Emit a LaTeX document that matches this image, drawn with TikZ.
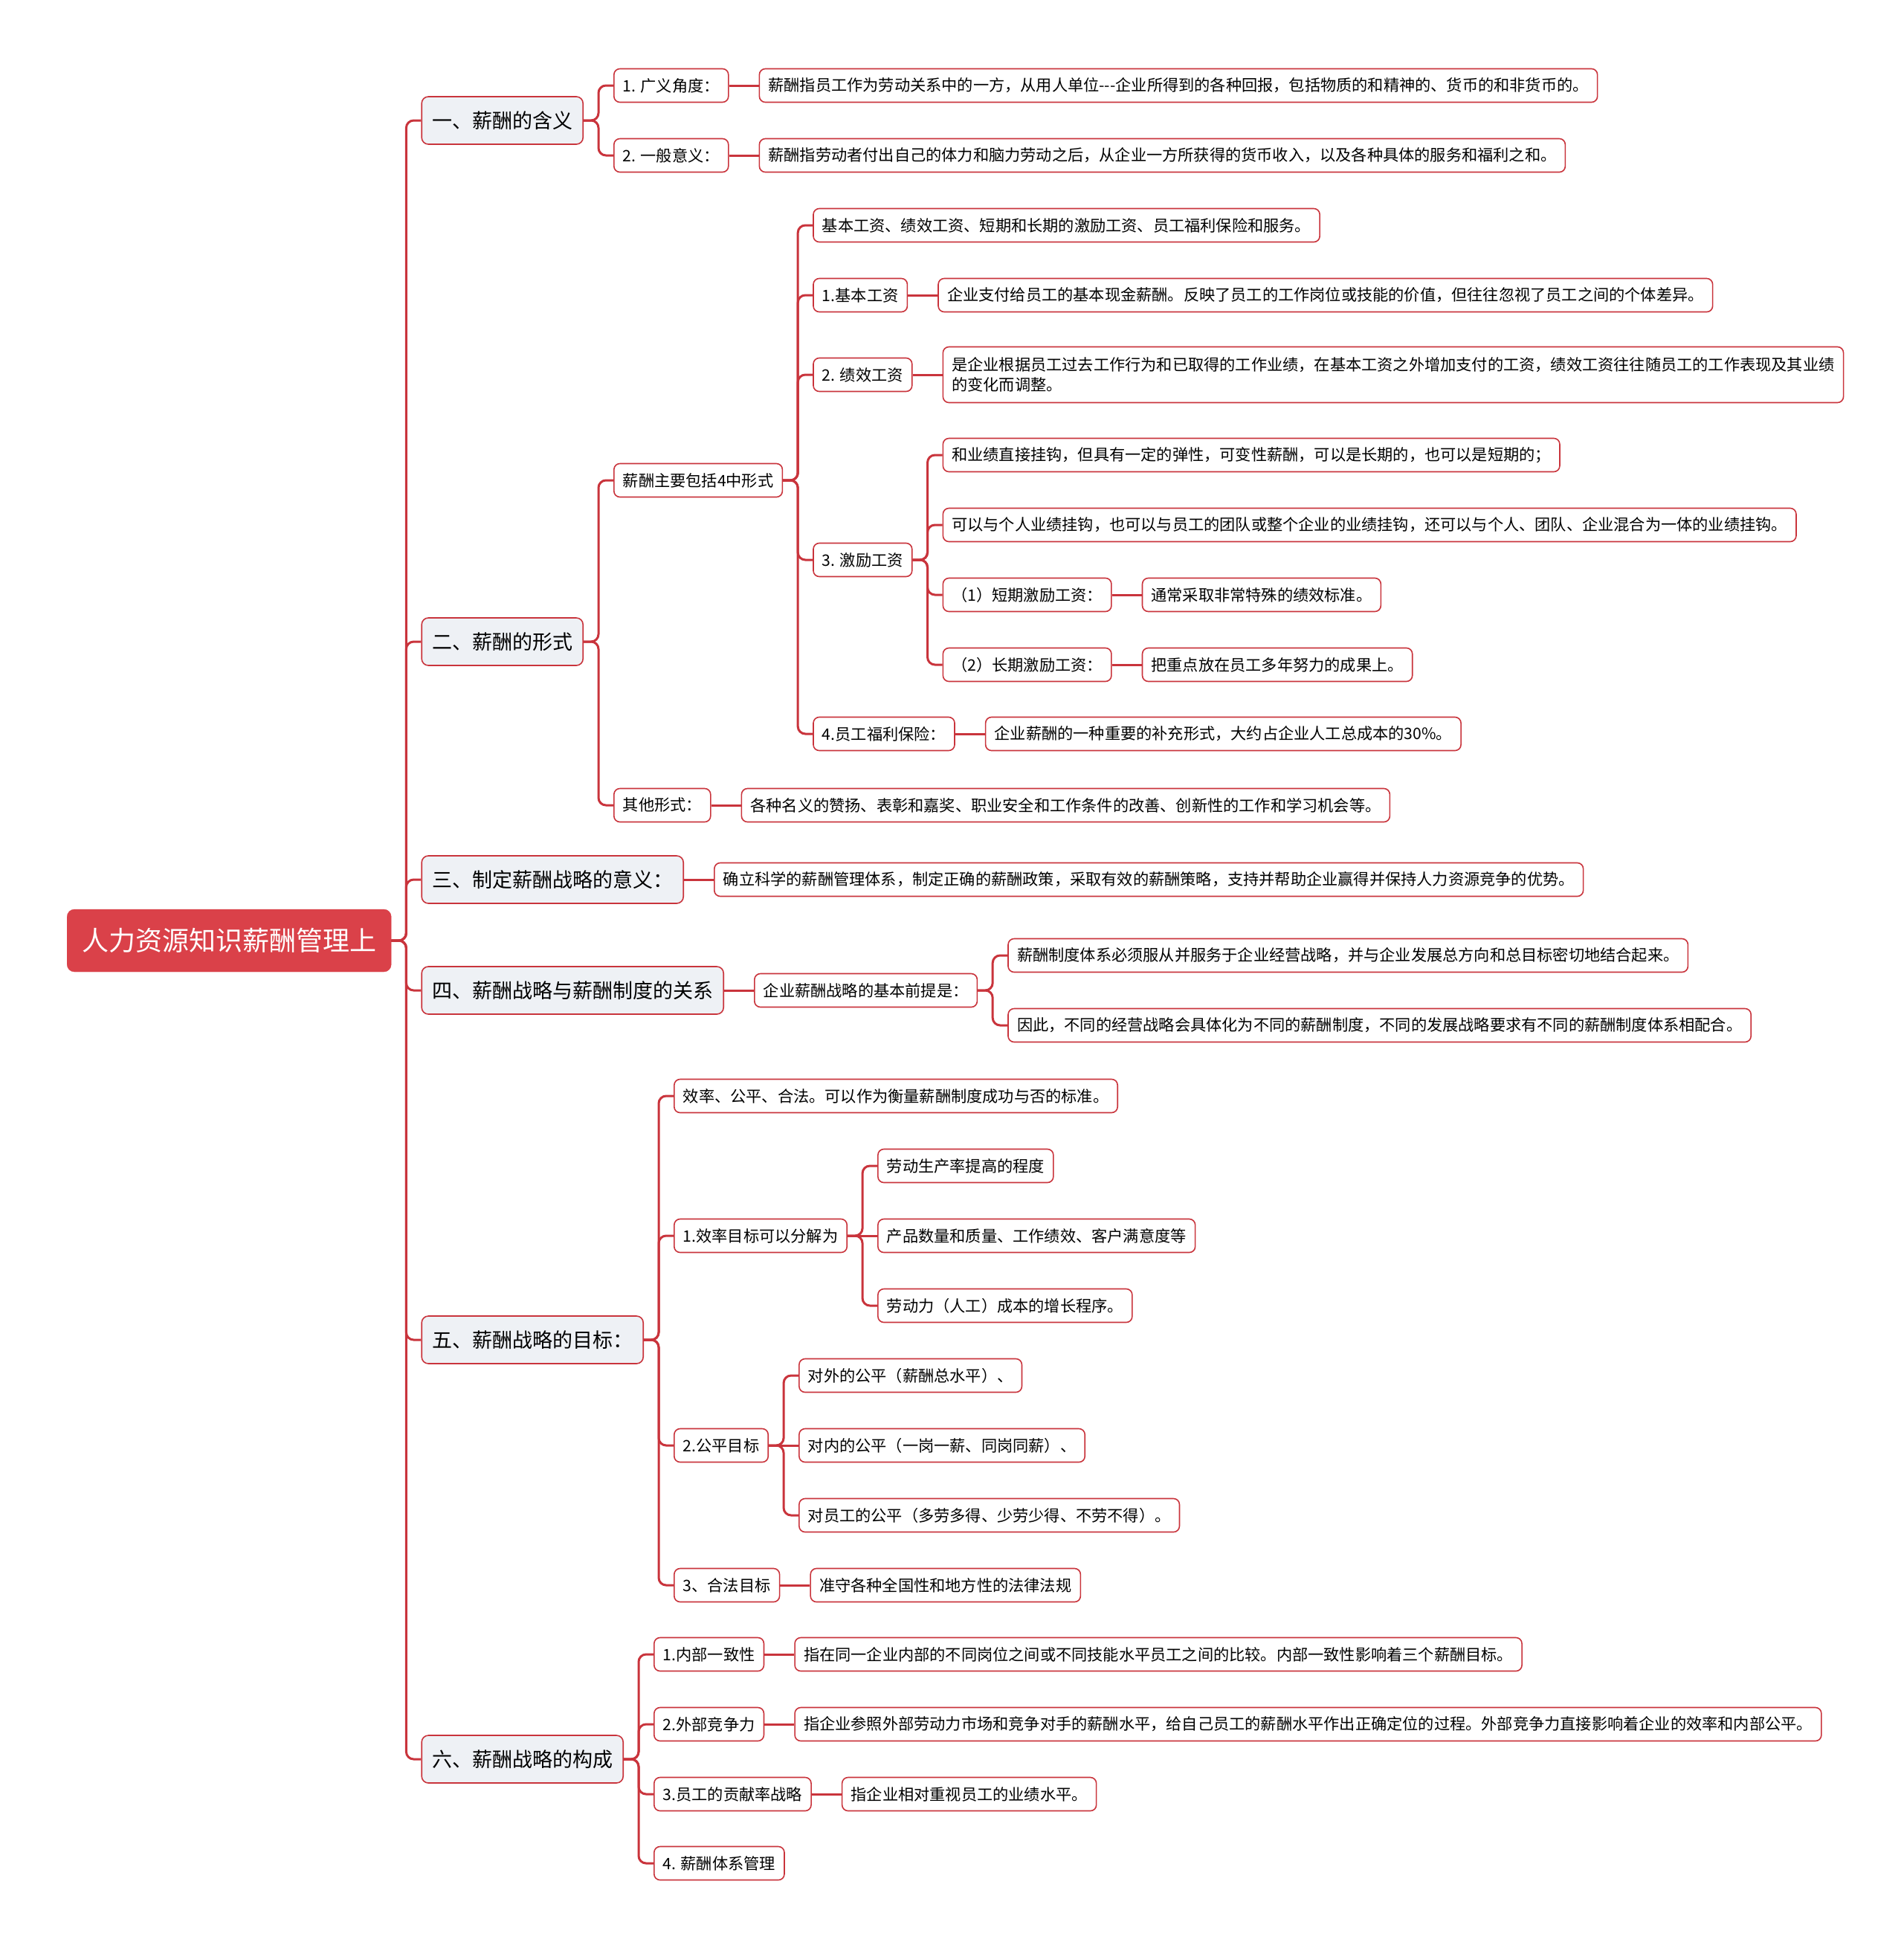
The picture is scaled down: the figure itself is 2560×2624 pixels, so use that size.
\documentclass[tikz,border=0pt]{standalone}
\usepackage{fontspec}
\setmainfont{Noto Sans CJK SC}
\usepackage{xcolor}
\usepackage{tikz}
\usetikzlibrary{positioning}

\definecolor{linkred}{RGB}{201,52,60}
\definecolor{rootred}{RGB}{218,65,73}
\definecolor{topicgray}{RGB}{238,241,245}

\begin{document}
\begin{tikzpicture}[x=1pt, y=-1pt, node distance=40pt,
    rootbox/.style={fill=rootred, draw=rootred, rounded corners=10pt, text=white, font=\fontsize{36}{40}\selectfont, minimum height=84pt, inner xsep=20pt},
    topic/.style={fill=topicgray, draw=linkred, line width=1.6pt, rounded corners=9pt, font=\fontsize{27}{32}\selectfont, minimum height=64pt, inner xsep=14pt},
    leaf/.style={fill=white, draw=linkred, line width=1.6pt, rounded corners=8pt, font=\fontsize{21.2}{27}\selectfont, minimum height=45pt, inner xsep=12pt, align=left},
    link/.style={draw=linkred, line width=3pt, rounded corners=10pt}]
    \useasboundingbox (0,0) rectangle (2560,2624);

    \node[rootbox, anchor=west] (root) at (90,1265) {人力资源知识薪酬管理上};

    % 一
    \node[topic] (t1) [right=of root, yshift=1103pt] {一、薪酬的含义};
    \node[leaf] (t1a) [right=of t1, yshift=47pt] {1. 广义角度：};
    \node[leaf] (t1a1) [right=of t1a] {薪酬指员工作为劳动关系中的一方，从用人单位-{}-{}-企业所得到的各种回报，包括物质的和精神的、货币的和非货币的。};
    \node[leaf] (t1b) [right=of t1, yshift=-47pt] {2. 一般意义：};
    \node[leaf] (t1b1) [right=of t1b] {薪酬指劳动者付出自己的体力和脑力劳动之后，从企业一方所获得的货币收入，以及各种具体的服务和福利之和。};

    % 二
    \node[topic] (t2) [right=of root, yshift=402pt] {二、薪酬的形式};
    \node[leaf] (t2a) [right=of t2, yshift=217pt] {薪酬主要包括4中形式};
    \node[leaf] (t2b) [right=of t2, yshift=-220pt] {其他形式：};
    \node[leaf] (t2b1) [right=of t2b] {各种名义的赞扬、表彰和嘉奖、职业安全和工作条件的改善、创新性的工作和学习机会等。};
    \node[leaf] (w0) [right=of t2a, yshift=343pt] {基本工资、绩效工资、短期和长期的激励工资、员工福利保险和服务。};
    \node[leaf] (w1) [right=of t2a, yshift=249pt] {1.基本工资};
    \node[leaf] (w1a) [right=of w1] {企业支付给员工的基本现金薪酬。反映了员工的工作岗位或技能的价值，但往往忽视了员工之间的个体差异。};
    \node[leaf] (w2) [right=of t2a, yshift=142pt] {2. 绩效工资};
    \node[leaf, minimum height=75pt] (w2a) [right=of w2] {是企业根据员工过去工作行为和已取得的工作业绩，在基本工资之外增加支付的工资，绩效工资往往随员工的工作表现及其业绩\\的变化而调整。};
    \node[leaf] (w3) [right=of t2a, yshift=-107pt] {3. 激励工资};
    \node[leaf] (w3a) [right=of w3, yshift=141pt] {和业绩直接挂钩，但具有一定的弹性，可变性薪酬，可以是长期的，也可以是短期的；};
    \node[leaf] (w3b) [right=of w3, yshift=47pt] {可以与个人业绩挂钩，也可以与员工的团队或整个企业的业绩挂钩，还可以与个人、团队、企业混合为一体的业绩挂钩。};
    \node[leaf] (w3c) [right=of w3, yshift=-47pt] {（1）短期激励工资：};
    \node[leaf] (w3c1) [right=of w3c] {通常采取非常特殊的绩效标准。};
    \node[leaf] (w3d) [right=of w3, yshift=-141pt] {（2）长期激励工资：};
    \node[leaf] (w3d1) [right=of w3d] {把重点放在员工多年努力的成果上。};
    \node[leaf] (w4) [right=of t2a, yshift=-341pt] {4.员工福利保险：};
    \node[leaf] (w4a) [right=of w4] {企业薪酬的一种重要的补充形式，大约占企业人工总成本的30\%。};

    % 三
    \node[topic] (t3) [right=of root, yshift=82pt] {三、制定薪酬战略的意义：};
    \node[leaf] (t3a) [right=of t3] {确立科学的薪酬管理体系，制定正确的薪酬政策，采取有效的薪酬策略，支持并帮助企业赢得并保持人力资源竞争的优势。};

    % 四
    \node[topic] (t4) [right=of root, yshift=-67pt] {四、薪酬战略与薪酬制度的关系};
    \node[leaf] (t4a) [right=of t4] {企业薪酬战略的基本前提是：};
    \node[leaf] (t4a1) [right=of t4a, yshift=47pt] {薪酬制度体系必须服从并服务于企业经营战略，并与企业发展总方向和总目标密切地结合起来。};
    \node[leaf] (t4a2) [right=of t4a, yshift=-47pt] {因此，不同的经营战略会具体化为不同的薪酬制度，不同的发展战略要求有不同的薪酬制度体系相配合。};

    % 五
    \node[topic] (t5) [right=of root, yshift=-537pt] {五、薪酬战略的目标：};
    \node[leaf] (g0) [right=of t5, yshift=328pt] {效率、公平、合法。可以作为衡量薪酬制度成功与否的标准。};
    \node[leaf] (g1) [right=of t5, yshift=140pt] {1.效率目标可以分解为};
    \node[leaf] (g1a) [right=of g1, yshift=94pt] {劳动生产率提高的程度};
    \node[leaf] (g1b) [right=of g1] {产品数量和质量、工作绩效、客户满意度等};
    \node[leaf] (g1c) [right=of g1, yshift=-94pt] {劳动力（人工）成本的增长程序。};
    \node[leaf] (g2) [right=of t5, yshift=-142pt] {2.公平目标};
    \node[leaf] (g2a) [right=of g2, yshift=94pt] {对外的公平（薪酬总水平）、};
    \node[leaf] (g2b) [right=of g2] {对内的公平（一岗一薪、同岗同薪）、};
    \node[leaf] (g2c) [right=of g2, yshift=-94pt] {对员工的公平（多劳多得、少劳少得、不劳不得）。};
    \node[leaf] (g3) [right=of t5, yshift=-330pt] {3、合法目标};
    \node[leaf] (g3a) [right=of g3] {准守各种全国性和地方性的法律法规};

    % 六
    \node[topic] (t6) [right=of root, yshift=-1101pt] {六、薪酬战略的构成};
    \node[leaf] (c1) [right=of t6, yshift=141pt] {1.内部一致性};
    \node[leaf] (c1a) [right=of c1] {指在同一企业内部的不同岗位之间或不同技能水平员工之间的比较。内部一致性影响着三个薪酬目标。};
    \node[leaf] (c2) [right=of t6, yshift=47pt] {2.外部竞争力};
    \node[leaf] (c2a) [right=of c2] {指企业参照外部劳动力市场和竞争对手的薪酬水平，给自己员工的薪酬水平作出正确定位的过程。外部竞争力直接影响着企业的效率和内部公平。};
    \node[leaf] (c3) [right=of t6, yshift=-47pt] {3.员工的贡献率战略};
    \node[leaf] (c3a) [right=of c3] {指企业相对重视员工的业绩水平。};
    \node[leaf] (c4) [right=of t6, yshift=-140pt] {4. 薪酬体系管理};

    % links
    \draw[link] (root.east) -- ++(20,0) |- (t1.west);
    \draw[link] (root.east) -- ++(20,0) |- (t2.west);
    \draw[link] (root.east) -- ++(20,0) |- (t3.west);
    \draw[link] (root.east) -- ++(20,0) |- (t4.west);
    \draw[link] (root.east) -- ++(20,0) |- (t5.west);
    \draw[link] (root.east) -- ++(20,0) |- (t6.west);

    \draw[link] (t1.east) -- ++(20,0) |- (t1a.west);
    \draw[link] (t1.east) -- ++(20,0) |- (t1b.west);
    \draw[link] (t1a) -- (t1a1);
    \draw[link] (t1b) -- (t1b1);

    \draw[link] (t2.east) -- ++(20,0) |- (t2a.west);
    \draw[link] (t2.east) -- ++(20,0) |- (t2b.west);
    \draw[link] (t2b) -- (t2b1);
    \draw[link] (t2a.east) -- ++(20,0) |- (w0.west);
    \draw[link] (t2a.east) -- ++(20,0) |- (w1.west);
    \draw[link] (t2a.east) -- ++(20,0) |- (w2.west);
    \draw[link] (t2a.east) -- ++(20,0) |- (w3.west);
    \draw[link] (t2a.east) -- ++(20,0) |- (w4.west);
    \draw[link] (w1) -- (w1a);
    \draw[link] (w2) -- (w2a);
    \draw[link] (w4) -- (w4a);
    \draw[link] (w3.east) -- ++(20,0) |- (w3a.west);
    \draw[link] (w3.east) -- ++(20,0) |- (w3b.west);
    \draw[link] (w3.east) -- ++(20,0) |- (w3c.west);
    \draw[link] (w3.east) -- ++(20,0) |- (w3d.west);
    \draw[link] (w3c) -- (w3c1);
    \draw[link] (w3d) -- (w3d1);

    \draw[link] (t3) -- (t3a);

    \draw[link] (t4) -- (t4a);
    \draw[link] (t4a.east) -- ++(20,0) |- (t4a1.west);
    \draw[link] (t4a.east) -- ++(20,0) |- (t4a2.west);

    \draw[link] (t5.east) -- ++(20,0) |- (g0.west);
    \draw[link] (t5.east) -- ++(20,0) |- (g1.west);
    \draw[link] (t5.east) -- ++(20,0) |- (g2.west);
    \draw[link] (t5.east) -- ++(20,0) |- (g3.west);
    \draw[link] (g1.east) -- ++(20,0) |- (g1a.west);
    \draw[link] (g1) -- (g1b);
    \draw[link] (g1.east) -- ++(20,0) |- (g1c.west);
    \draw[link] (g2.east) -- ++(20,0) |- (g2a.west);
    \draw[link] (g2) -- (g2b);
    \draw[link] (g2.east) -- ++(20,0) |- (g2c.west);
    \draw[link] (g3) -- (g3a);

    \draw[link] (t6.east) -- ++(20,0) |- (c1.west);
    \draw[link] (t6.east) -- ++(20,0) |- (c2.west);
    \draw[link] (t6.east) -- ++(20,0) |- (c3.west);
    \draw[link] (t6.east) -- ++(20,0) |- (c4.west);
    \draw[link] (c1) -- (c1a);
    \draw[link] (c2) -- (c2a);
    \draw[link] (c3) -- (c3a);
  \end{tikzpicture}
\end{document}
